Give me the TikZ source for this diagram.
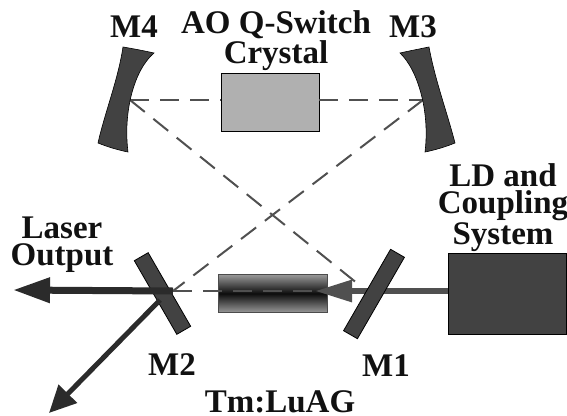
\documentclass[tikz,border=0pt]{standalone}
\usepackage{fontspec}
\setmainfont{Liberation Serif}
\usetikzlibrary{arrows.meta}
\definecolor{mirrorgray}{HTML}{424242}
\definecolor{beamgray}{HTML}{505050}
\definecolor{outgray}{HTML}{2B2B2B}
\definecolor{labelgray}{HTML}{111111}
\tikzset{>=latex}
\begin{document}
\begin{tikzpicture}[x=1pt, y=-1pt]
    \tikzstyle{every node}=[inner sep=0pt, outer sep=0pt]
    \tikzstyle{label}=[font=\bfseries\fontsize{33}{27}\selectfont, text=labelgray, anchor=base]
    \tikzstyle{label lines}=[label, align=center]
    \tikzstyle{flat mirror}=[draw=black, fill=mirrorgray, line width=0.8pt, minimum width=85pt, minimum height=16pt]
    \tikzstyle{curved mirror}=[draw=black, fill=mirrorgray, line width=0.6pt]
    \tikzstyle{cavity}=[draw=beamgray, line width=2pt, dash pattern=on 19pt off 11pt]
    \useasboundingbox (0,0) rectangle (567,415);

    % beam corners (fold points on the mirrors)
    \coordinate (f4) at (130,100);
    \coordinate (f3) at (423,100);
    \coordinate (f2) at (173,291);
    \coordinate (f1) at (363,288);
    \coordinate (out) at (13,290);
    \coordinate (leak) at (49,413);
    \coordinate (leakstart) at (160,300);
    \coordinate (pumptip) at (315,291);

    \node[draw=black, fill=black!31, line width=0.8pt, minimum width=98pt, minimum height=58pt] (crystal) at (270,102) {};
    \node[draw=black!70, line width=0.8pt, top color=black!40, bottom color=black!40, middle color=black!95, minimum width=109pt, minimum height=38pt] (rod) at (272.5,293.5) {};
    \node[draw=black, fill=mirrorgray, line width=0.8pt, minimum width=118pt, minimum height=81pt, anchor=north west] (ld) at (448,253) {};

    % cavity
    \draw[cavity] (f4) -- (crystal.west |- f4);
    \draw[cavity] (crystal.east |- f3) -- (f3);
    \draw[cavity] (f4) -- (f1);
    \draw[cavity] (f3) -- (f2);
    \draw[cavity] (f2) -- (f2 -| f1);

    % pump
    \draw[-{Triangle[length=37pt,width=21pt]}, beamgray, line width=6pt] (ld.west |- pumptip) -- (pumptip);

    \node[flat mirror, rotate=-60] (mtwo) at (162.5,293.5) {};
    \node[flat mirror, rotate=60, minimum width=94pt] (mone) at (374,294) {};

    \draw[curved mirror] (123,47) .. controls (135,49) and (145,51) .. (154,53)
        .. controls (134,70) and (123,112) .. (128,152)
        .. controls (118,150) and (108,147) .. (98,143)
        .. controls (105,112) and (118,80) .. (123,47) -- cycle;
    \draw[curved mirror] (429,47) .. controls (419,49) and (409,51) .. (400,53)
        .. controls (418,70) and (430,112) .. (425,152)
        .. controls (435,150) and (445,147) .. (455,143)
        .. controls (447,112) and (435,80) .. (429,47) -- cycle;

    % outputs
    \draw[-{Triangle[length=37pt,width=24pt]}, outgray, line width=7pt] (f2) -- (out);
    \draw[-{Triangle[length=27pt,width=25pt]}, outgray, line width=5pt] (leakstart) -- (leak);

    \node[label] (lmfour) at (134,37) {M4};
    \node[label] (lmthree) at (413,37) {M3};
    \node[label lines] (laoq) at (276,63) {AO Q-Switch\\Crystal};
    \node[label lines] (loutput) at (62,265) {Laser\\Output};
    \node[label lines] (lld) at (503,244) {LD and\\Coupling\\System};
    \node[label] (lmtwo) at (172,375) {M2};
    \node[label] (lmone) at (386,376) {M1};
    \node[label] (lrod) at (280,412) {Tm:LuAG};
\end{tikzpicture}
\end{document}
